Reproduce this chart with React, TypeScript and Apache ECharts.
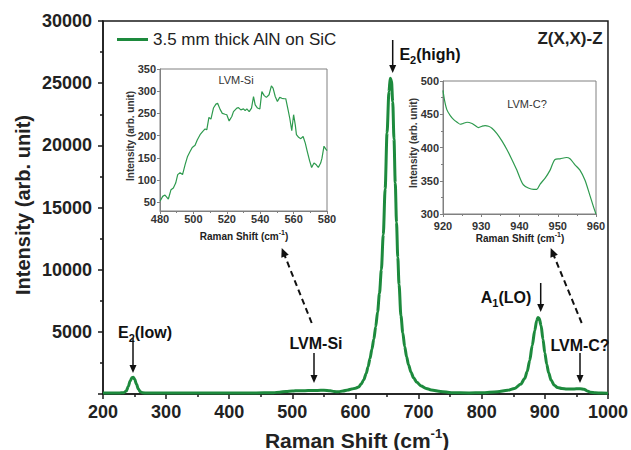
import React, { useEffect, useRef } from "react";
import * as echarts from "echarts";

const FF = '"Liberation Sans", Arial, Helvetica, sans-serif';

// Main Raman spectrum (cm-1, arb. unit)
const mainShift = [200, 225, 233, 237, 240, 243, 246, 248, 250, 253, 256, 259, 263, 270, 300, 350, 400, 440, 470, 480, 490, 500, 510, 520, 530, 540, 550, 560, 566, 573, 580, 588, 594, 600, 605, 609, 613, 617, 620, 623, 626, 629, 632, 635, 638, 641, 644, 647, 650, 653, 655, 657, 659, 661, 663, 665, 667, 669, 672, 675, 678, 681, 684, 688, 692, 697, 704, 712, 720, 735, 752, 780, 800, 825, 841, 852, 862, 868, 872, 876, 880, 884, 887, 889, 891, 894, 897, 900, 903, 906, 910, 915, 920, 927, 935, 943, 950, 956, 962, 967, 972, 980, 990, 1000];
const mainIntensity = [80, 80, 110, 250, 600, 1050, 1330, 1340, 1200, 800, 400, 180, 100, 80, 75, 75, 80, 85, 110, 150, 200, 240, 270, 270, 280, 290, 300, 260, 200, 180, 240, 330, 400, 460, 560, 800, 1130, 1650, 2200, 2850, 3600, 4400, 5400, 6600, 8100, 10000, 12800, 16500, 21000, 24300, 25400, 25200, 23500, 20500, 17000, 13800, 11000, 8800, 6300, 4900, 3800, 3000, 2350, 1750, 1300, 950, 640, 450, 320, 200, 110, 90, 100, 190, 300, 450, 800, 1250, 1800, 2700, 3900, 5100, 5900, 6150, 6100, 5500, 4400, 3300, 2400, 1700, 1100, 700, 520, 440, 400, 400, 420, 430, 380, 250, 150, 100, 80, 70];

// Inset: LVM-Si
const siShift = [480, 481.6, 483, 485, 486.6, 488, 489.4, 490.6, 492, 493.5, 495, 496.5, 498, 499.3, 501, 502.3, 504, 505.5, 507, 508, 509.3, 510.5, 512, 513.5, 514.5, 516, 517.3, 519, 520, 521.4, 523, 524, 526, 527, 528.4, 530, 531, 532, 533.4, 534.8, 536, 537, 538.4, 539.8, 541, 542.4, 543.7, 545.3, 546.7, 547.7, 549, 550.3, 551.7, 553, 554.3, 555.3, 556.7, 557.7, 558.9, 560, 561, 561.7, 563, 564.3, 565.7, 567, 568.2, 569.6, 570.8, 572.2, 573.6, 574.8, 576.2, 577, 578.2, 579.2, 580];
const siIntensity = [52, 63, 66, 57, 78, 82, 93, 112, 116, 112, 134, 153, 164, 173, 178, 190, 202, 209, 215, 213, 241, 237, 262, 271, 273, 259, 250, 248, 247, 233, 243, 254, 262, 263, 258, 260, 256, 260, 254, 262, 288, 269, 262, 260, 299, 290, 286, 292, 312, 307, 288, 277, 286, 284, 283, 283, 258, 239, 211, 247, 224, 202, 196, 193, 198, 183, 164, 143, 128, 138, 134, 128, 138, 149, 176, 170, 166];

// Inset: LVM-C?
const cShift = [920, 920.4, 921, 921.9, 922.8, 923.7, 924.5, 925.2, 926.3, 927.6, 928.4, 929.3, 930.2, 931, 931.9, 932.8, 934.1, 935.4, 936.7, 938, 939.3, 940.2, 941, 942.3, 943.7, 944.5, 945.4, 946.7, 948, 949.3, 950.6, 952.3, 953.2, 954.5, 955.8, 957.1, 958.4, 959.5, 960];
const cIntensity = [486, 471, 457, 448, 442, 438, 435, 436, 438, 436, 433, 430, 432, 433, 432, 429, 421, 410, 397, 382, 366, 353, 344, 339, 337, 337, 345, 354, 366, 382, 383, 385, 383, 374, 366, 351, 328, 308, 300];

const mainXTicks = [200, 1000, 100];
const mainYTicks = [0, 30000, 5000];
const siYLabels = [50, 100, 150, 200, 250, 300, 350];
const legendName = "3.5 mm thick AlN on SiC";

const zip = (a: number[], b: number[]) => a.map((v, i) => [v, b[i]]);

function arrow(x1: number, y1: number, x2: number, y2: number, dashed: boolean) {
  const dx = x2 - x1, dy = y2 - y1;
  const L = Math.hypot(dx, dy);
  const ux = dx / L, uy = dy / L;
  const hl = dashed ? 9 : 8, hw = dashed ? 4 : 3.5;
  const bx = x2 - ux * hl, by = y2 - uy * hl;
  return [
    {
      type: "line", z: 100,
      shape: { x1, y1, x2: bx + ux * 1, y2: by + uy * 1 },
      style: { stroke: "#111", lineWidth: dashed ? 2 : 1.5, lineDash: dashed ? [6, 4] : null },
    },
    {
      type: "polygon", z: 100,
      shape: { points: [[x2, y2], [bx - uy * hw, by + ux * hw], [bx + uy * hw, by - ux * hw]] },
      style: { fill: "#111" },
    },
  ];
}

const annRich = {
  n: { fontSize: 16, fontWeight: "bold", fontFamily: FF, fill: "#111", lineHeight: 22 },
  s: { fontSize: 11, fontWeight: "bold", fontFamily: FF, fill: "#111", lineHeight: 11, verticalAlign: "bottom" },
};

function label(text: string, x: number, y: number, rich: any, extra: any = {}) {
  return {
    type: "text", z: 100, x, y, ...extra,
    style: {
      text, rich, fill: "#111",
      align: "center", verticalAlign: "middle",
      textAlign: "center", textVerticalAlign: "middle",
    },
  };
}

const titleRich = (fs: number, sup: number) => ({
  n: { fontSize: fs, fontWeight: "bold", fontFamily: FF, fill: "#222", lineHeight: fs + 5 },
  s: { fontSize: sup, fontWeight: "bold", fontFamily: FF, fill: "#222", lineHeight: sup, verticalAlign: "top" },
});

function plainText(text: string, x: number, y: number, size: number, weight: string, color: string, extra: any = {}) {
  return {
    type: "text", z: 100, x, y, ...extra,
    style: {
      text, fill: color, fontSize: size, fontWeight: weight, fontFamily: FF,
      align: "center", verticalAlign: "middle",
      textAlign: "center", textVerticalAlign: "middle",
    },
  };
}

const mainAxisStyle = { color: "#1a1a1a", width: 1.5 };
const insetAxisStyle = { color: "#808080", width: 1 };
const insetLabel = { fontSize: 11, fontWeight: "bold", color: "#333", fontFamily: FF };

export default function App() {
  const ref = useRef<HTMLDivElement>(null);
  useEffect(() => {
    const chart = echarts.init(ref.current!, null, { renderer: "svg" });
    const option: any = {
      animation: false,
      backgroundColor: "#fff",
      legend: {
        show: true, data: [legendName], left: 117, top: 31, padding: 0,
        itemWidth: 31, itemHeight: 3, icon: "rect", itemGap: 5,
        textStyle: { fontSize: 17, color: "#222", fontFamily: FF },
      },
      grid: [
        { left: 103, top: 21, width: 508, height: 373, show: true, borderColor: "#1a1a1a", borderWidth: 1.5, backgroundColor: "transparent" },
        { left: 160, top: 69, width: 167, height: 142, show: true, borderColor: "#808080", borderWidth: 1, backgroundColor: "transparent" },
        { left: 443, top: 81, width: 153, height: 133, show: true, borderColor: "#808080", borderWidth: 1, backgroundColor: "transparent" },
      ],
      xAxis: [
        {
          type: "value", gridIndex: 0, min: mainXTicks[0], max: mainXTicks[1], interval: mainXTicks[2],
          axisLine: { show: true, lineStyle: mainAxisStyle },
          axisTick: { show: true, length: 5, lineStyle: mainAxisStyle },
          minorTick: { show: true, splitNumber: 2, length: 3, lineStyle: mainAxisStyle },
          splitLine: { show: false },
          axisLabel: { fontSize: 18, fontWeight: "bold", color: "#222", fontFamily: FF, margin: 9, formatter: (v: number) => String(v) },
        },
        {
          type: "value", gridIndex: 1, min: 480, max: 580, interval: 20,
          axisLine: { show: true, lineStyle: insetAxisStyle },
          axisTick: { show: true, length: 3, lineStyle: insetAxisStyle },
          minorTick: { show: true, splitNumber: 2, length: 2, lineStyle: insetAxisStyle },
          splitLine: { show: false },
          axisLabel: { ...insetLabel, margin: 2 },
        },
        {
          type: "value", gridIndex: 2, min: 920, max: 960, interval: 10,
          axisLine: { show: true, lineStyle: insetAxisStyle },
          axisTick: { show: true, length: 3, lineStyle: insetAxisStyle },
          minorTick: { show: true, splitNumber: 2, length: 2, lineStyle: insetAxisStyle },
          splitLine: { show: false },
          axisLabel: { ...insetLabel, margin: 6 },
        },
      ],
      yAxis: [
        {
          type: "value", gridIndex: 0, min: mainYTicks[0], max: mainYTicks[1], interval: mainYTicks[2],
          axisLine: { show: true, lineStyle: mainAxisStyle },
          axisTick: { show: true, length: 5, lineStyle: mainAxisStyle },
          minorTick: { show: true, splitNumber: 2, length: 3, lineStyle: mainAxisStyle },
          splitLine: { show: false },
          axisLabel: {
            fontSize: 18, fontWeight: "bold", color: "#222", fontFamily: FF, margin: 11,
            formatter: (v: number) => (v === 0 ? "" : String(v)),
          },
        },
        {
          type: "value", gridIndex: 1, min: 30, max: 350, interval: 10,
          axisLine: { show: true, lineStyle: insetAxisStyle },
          axisTick: { show: true, length: 3, lineStyle: insetAxisStyle, customValues: siYLabels },
          splitLine: { show: false },
          axisLabel: {
            ...insetLabel, margin: 4, customValues: siYLabels,
            formatter: (v: number) => (v % 50 === 0 ? String(v) : ""),
          },
        },
        {
          type: "value", gridIndex: 2, min: 300, max: 500, interval: 50,
          axisLine: { show: true, lineStyle: insetAxisStyle },
          axisTick: { show: true, length: 3, lineStyle: insetAxisStyle },
          minorTick: { show: true, splitNumber: 2, length: 2, lineStyle: insetAxisStyle },
          splitLine: { show: false },
          axisLabel: { ...insetLabel, margin: 4 },
        },
      ],
      series: [
        {
          type: "line", name: legendName, xAxisIndex: 0, yAxisIndex: 0,
          data: zip(mainShift, mainIntensity), showSymbol: false, symbol: "none",
          smooth: 0.3, smoothMonotone: "x",
          lineStyle: { color: "#1d8a3d", width: 3 }, itemStyle: { color: "#1d8a3d" },
        },
        {
          type: "line", name: "LVM-Si", xAxisIndex: 1, yAxisIndex: 1,
          data: zip(siShift, siIntensity), showSymbol: false, symbol: "none",
          lineStyle: { color: "#2e9a4e", width: 1.2 }, itemStyle: { color: "#2e9a4e" },
        },
        {
          type: "line", name: "LVM-C?", xAxisIndex: 2, yAxisIndex: 2,
          data: zip(cShift, cIntensity), showSymbol: false, symbol: "none", smooth: 0.3,
          lineStyle: { color: "#2e9a4e", width: 1.2 }, itemStyle: { color: "#2e9a4e" },
        },
      ],
      graphic: [
        // axis titles
        label("{n|Raman Shift (cm}{s|-1}{n|)}", 357, 440, titleRich(21, 13)),
        plainText("Intensity (arb. unit)", 22.5, 205, 20, "bold", "#222", { rotation: Math.PI / 2 }),
        label("{n|Raman Shift (cm}{s|-1}{n|)}", 244, 236, titleRich(10, 7)),
        label("{n|Raman Shift (cm}{s|-1}{n|)}", 520, 238, titleRich(10, 7)),
        plainText("Intensity (arb. unit)", 130, 136, 10, "bold", "#333", { rotation: Math.PI / 2 }),
        plainText("Intensity (arb. unit)", 413, 143, 10, "bold", "#333", { rotation: Math.PI / 2 }),
        plainText("LVM-Si", 236, 80, 11, "normal", "#333"),
        plainText("LVM-C?", 527, 104, 11, "normal", "#333"),
        plainText("Z(X,X)-Z", 570, 38, 17, "bold", "#222"),
        // peak labels
        label("{n|E}{s|2}{n|(low)}", 145, 332, annRich),
        label("{n|LVM-Si}", 316, 343, annRich),
        label("{n|E}{s|2}{n|(high)}", 430, 54, annRich),
        label("{n|A}{s|1}{n|(LO)}", 506, 297, annRich),
        label("{n|LVM-C?}", 580, 345, annRich),
        // arrows
        ...arrow(133, 338, 133, 373, false),
        ...arrow(314, 353, 314, 383, false),
        ...arrow(392.7, 40, 392.7, 73, false),
        ...arrow(540.7, 283, 540.7, 312, false),
        ...arrow(580, 353, 580, 383, false),
        ...arrow(311.7, 323, 281.7, 248, true),
        ...arrow(581.7, 323, 550.7, 248, true),
      ],
    };
    chart.setOption(option);
    return () => chart.dispose();
  }, []);
  return <div ref={ref} style={{ position: "fixed", left: 0, top: 0, width: 631, height: 450 }} />;
}
